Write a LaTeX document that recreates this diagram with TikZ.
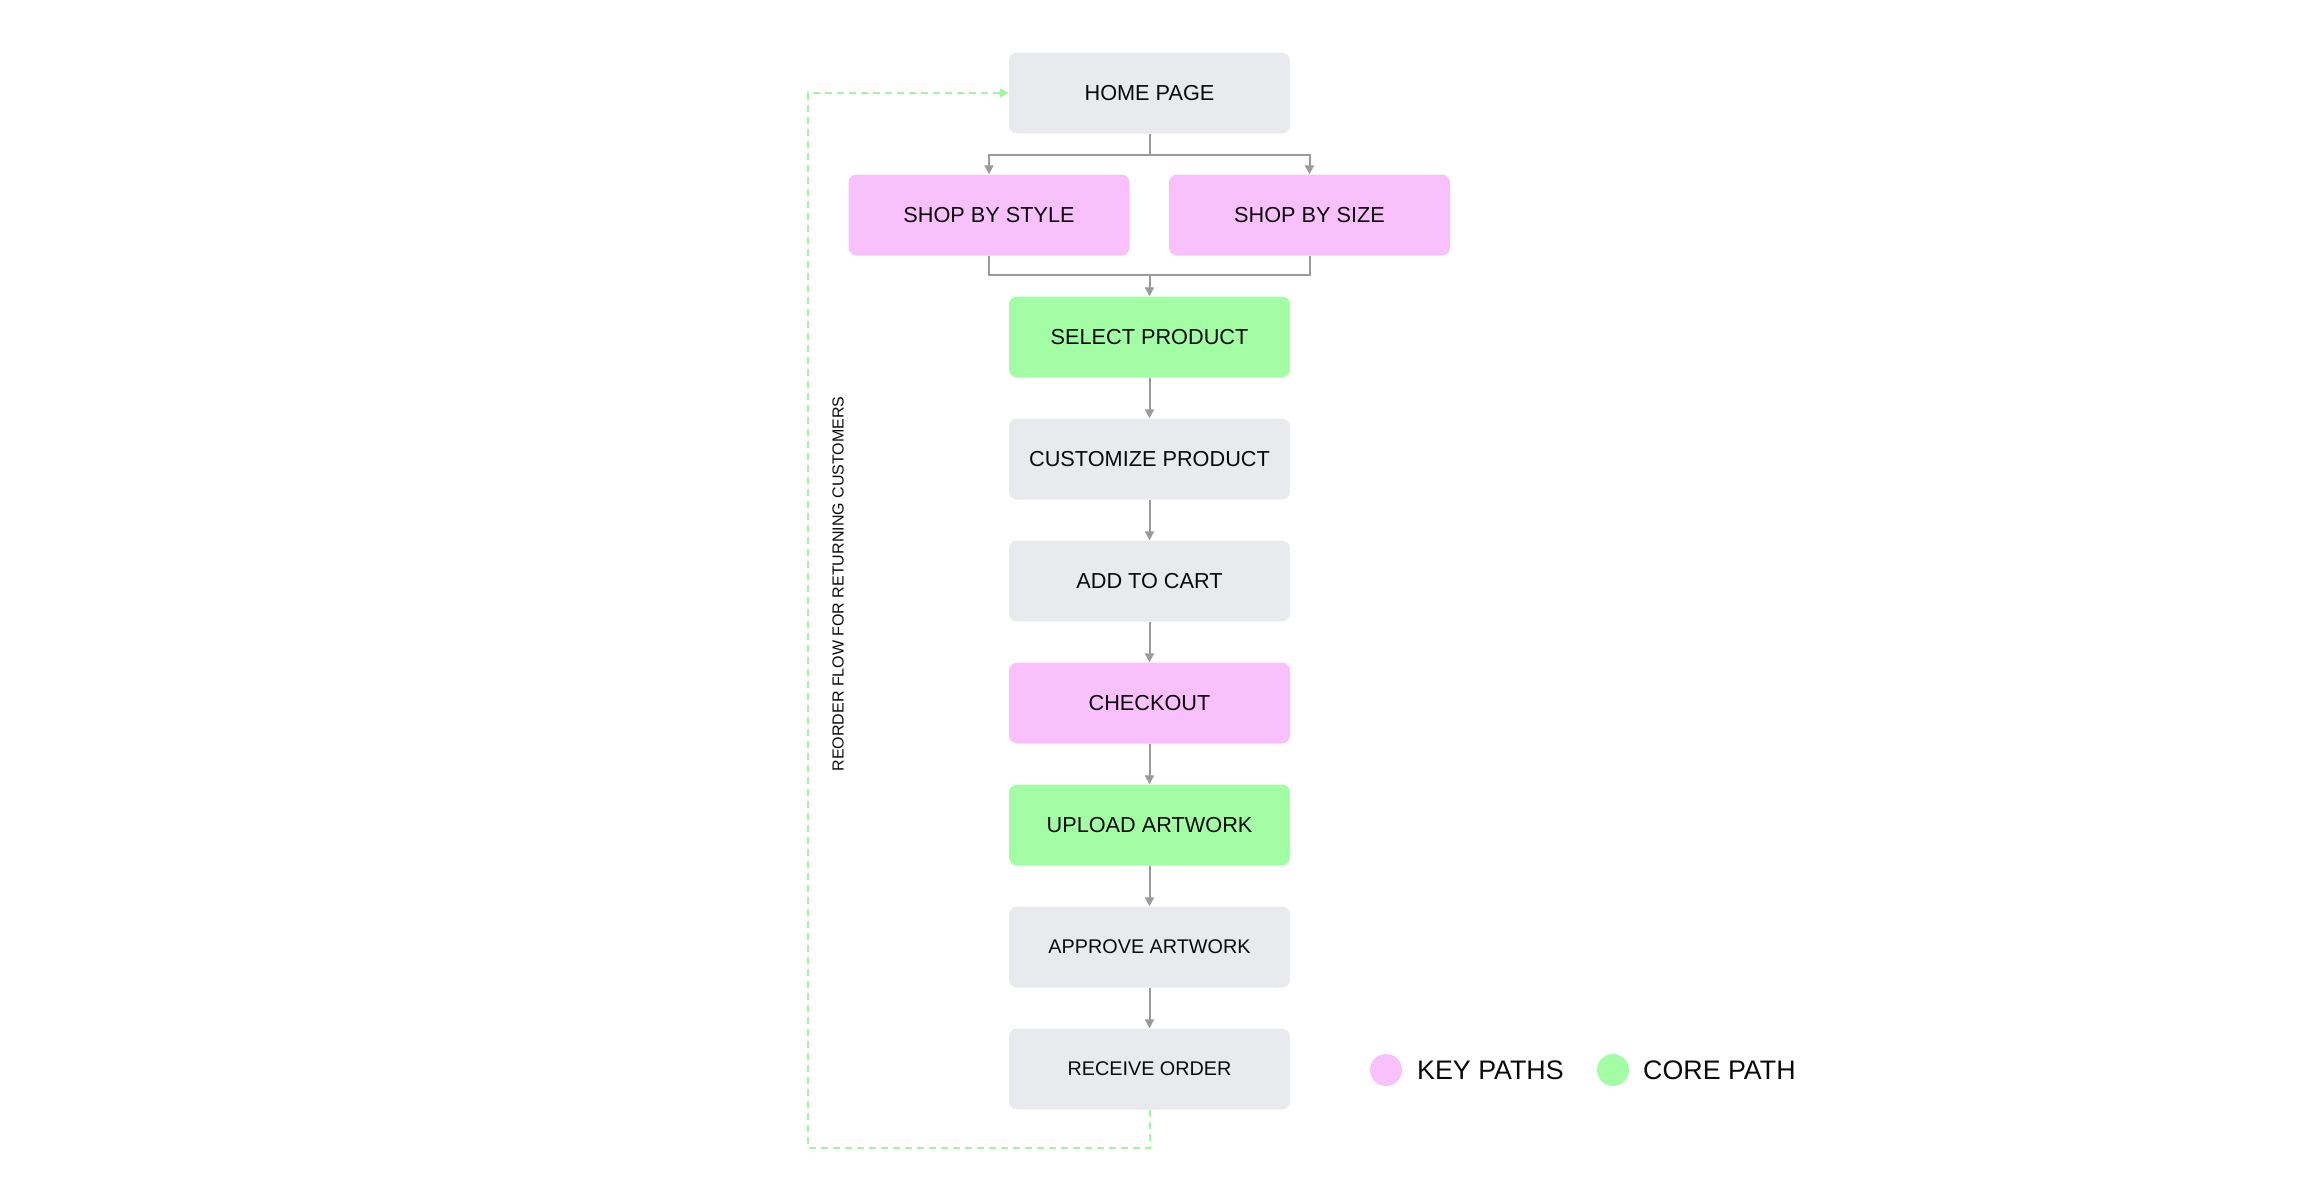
\documentclass[tikz,border=0pt]{standalone}
\usepackage{fontspec}
\setmainfont{Liberation Sans}
\usetikzlibrary{arrows.meta,calc}
\definecolor{boxgray}{HTML}{E9EAEE}
\definecolor{boxpink}{HTML}{F9C1FB}
\definecolor{boxgreen}{HTML}{A3FDA5}
\definecolor{lineg}{HTML}{9A9A9E}
\definecolor{dashg}{HTML}{A3F59F}
\definecolor{txt}{HTML}{0A0A0A}
\begin{document}
\begin{tikzpicture}[x=1pt,y=-1pt,
  box/.style={rectangle,rounded corners=8pt,minimum width=281pt,minimum height=81pt,inner sep=0pt,text=txt,font=\fontsize{21.7}{24}\selectfont},
  small/.style={font=\fontsize{19.8}{22}\selectfont},
  gbox/.style={box,fill=boxgray},
  pbox/.style={box,fill=boxpink},
  cbox/.style={box,fill=boxgreen},
  line/.style={draw=lineg,line width=2pt},
  conn/.style={line,-{Triangle[width=9pt,length=9pt]}},
  loop/.style={draw=dashg,line width=2pt,dash pattern=on 7pt off 5pt,-{Triangle[width=9pt,length=9pt]}},
  dot/.style={circle,inner sep=0pt,minimum size=32pt},
  legtext/.style={anchor=west,inner sep=0pt,text=txt,font=\fontsize{26.8}{30}\selectfont}
]
\useasboundingbox (0,0) rectangle (2300,1200);
\fill[white] (0,0) rectangle (2300,1200);

\node[gbox] (home) at (1149.5,93) {HOME PAGE};
\node[pbox] (style) at (989,215) {SHOP BY STYLE};
\node[pbox] (size) at (1309.5,215) {SHOP BY SIZE};
\node[cbox] (select) at (1149.5,337) {SELECT PRODUCT};
\node[gbox] (custom) at (1149.5,459) {CUSTOMIZE PRODUCT};
\node[gbox] (cart) at (1149.5,581) {ADD TO CART};
\node[pbox] (checkout) at (1149.5,703) {CHECKOUT};
\node[cbox] (upload) at (1149.5,825) {UPLOAD ARTWORK};
\node[gbox,small] (approve) at (1149.5,947) {APPROVE ARTWORK};
\node[gbox,small] (receive) at (1149.5,1069) {RECEIVE ORDER};

\coordinate (j1) at (1149.5,155);
\coordinate (j2) at (1149.5,275);
\draw[line] (home.south) -- (j1);
\draw[conn] (j1) -| (style.north);
\draw[conn] (j1) -| (size.north);
\draw[line] (style.south) |- (j2) -| (size.south);
\draw[conn] (j2) -- (select.north);
\draw[conn] (select) -- (custom);
\draw[conn] (custom) -- (cart);
\draw[conn] (cart) -- (checkout);
\draw[conn] (checkout) -- (upload);
\draw[conn] (upload) -- (approve);
\draw[conn] (approve) -- (receive);

\coordinate (lb) at (808,1148);
\draw[loop] (receive.south) |- (lb) |- (home.west);

\node[rotate=90,inner sep=0pt,text=txt,font=\fontsize{16}{18}\selectfont] (lbl) at (838,584) {REORDER FLOW FOR RETURNING CUSTOMERS};

\node[dot,fill=boxpink] (kp) at (1386,1070) {};
\node[legtext] (kpt) at (1417,1070) {KEY PATHS};
\node[dot,fill=boxgreen] (cp) at (1613,1070) {};
\node[legtext] (cpt) at (1643,1070) {CORE PATH};
\end{tikzpicture}
\end{document}
